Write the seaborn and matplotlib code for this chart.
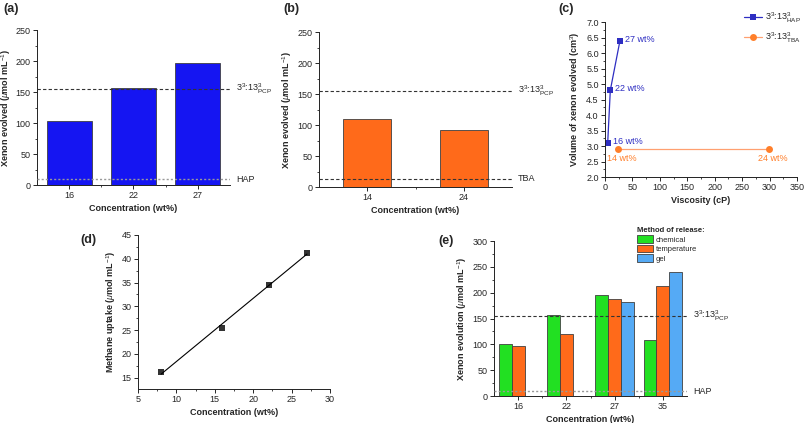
import seaborn as sns
import matplotlib.pyplot as plt
import pandas as pd
from matplotlib.ticker import MultipleLocator

sns.set_style("ticks")
plt.rcParams['font.family'] = ['Liberation Sans', 'DejaVu Sans']
plt.rcParams['mathtext.fontset'] = 'custom'
plt.rcParams['mathtext.rm'] = 'Liberation Sans'
plt.rcParams['mathtext.it'] = 'Liberation Sans:italic'
plt.rcParams['mathtext.bf'] = 'Liberation Sans:bold'

# (a) 3^3:13^3 in HAP
conc_a = ["16", "22", "27"]
xenon_a = [103, 156, 196]
# (b) 3^3:13^3 in TBA
conc_b = ["14", "24"]
xenon_b = [109, 92]
pcp_level = 155
hap_level = 9
tba_level = 13

# (c) volume vs viscosity
visc_hap = [4.9, 9.7, 27.3]
vol_hap = [3.1, 4.8, 6.4]
lab_hap = ["16 wt%", "22 wt%", "27 wt%"]
visc_tba = [23, 299]
vol_tba = [2.9, 2.9]
lab_tba = ["14 wt%", "24 wt%"]

# (d) methane uptake
conc_d = [8, 16, 22, 27]
methane_d = [16.2, 25.5, 34.4, 41.3]

# (e) release methods
conc_e = ["16", "22", "27", "35"]
methods = ["chemical", "temperature", "gel"]
chem_e = [101, 156, 195, 108]
temp_e = [97, 120, 188, 213]
gel_e = [None, None, 181, 240]

blue = '#1515F2'
orange = '#FF6A1A'
green = '#22E022'
lblue = '#55AAF5'
edge = '#404040'

tick_fs = 6.5
lab_fs = 6.5

rows = []
for i, c in enumerate(conc_e):
    for m, vals in zip(methods, [chem_e, temp_e, gel_e]):
        if vals[i] is not None:
            rows.append({"conc": c, "xenon": vals[i], "method": m})
df_e = pd.DataFrame(rows)

fig = plt.figure(figsize=(8.08, 4.23), dpi=100)
W, H = 808, 423


def box(x0, x1, y0, y1):
    return [x0 / W, 1 - y1 / H, (x1 - x0) / W, (y1 - y0) / H]


ax_a = fig.add_axes(box(37, 230, 30, 185))
ax_b = fig.add_axes(box(319, 512, 32, 187))
ax_c = fig.add_axes(box(605, 797, 22, 177))
ax_d = fig.add_axes(box(138, 330, 235, 389))
ax_e = fig.add_axes(box(494, 687, 241, 396))


def style(ax):
    sns.despine(ax=ax)
    for s in ['left', 'bottom']:
        ax.spines[s].set_linewidth(0.7)
        ax.spines[s].set_color('#222222')
    ax.tick_params(which='major', direction='out', length=3, width=0.7,
                   labelsize=tick_fs, pad=1.5)
    ax.tick_params(which='minor', direction='out', length=1.6, width=0.6)


def ref_lines(ax, low, low_text, low_style):
    ax.axhline(pcp_level, ls=(0, (3, 2)), color='#333333', lw=0.8, zorder=5)
    ax.axhline(low, ls=low_style[0], color=low_style[1], lw=low_style[2], zorder=5)
    tr = ax.get_yaxis_transform()
    ax.text(1.03, pcp_level, r'3$^3$:13$^3_{\mathrm{PCP}}$', transform=tr,
            va='center', ha='left', fontsize=tick_fs, clip_on=False)
    ax.text(1.03, low, low_text, transform=tr, va='center', ha='left',
            fontsize=tick_fs, clip_on=False)


# (a)
sns.barplot(x=conc_a, y=xenon_a, color=blue, width=0.7, saturation=1,
            edgecolor=edge, linewidth=0.6, ax=ax_a)
ref_lines(ax_a, hap_level, 'HAP', ((0, (1.5, 1.5)), '#999999', 1.0))
ax_a.set_ylim(0, 250)
ax_a.set_xlim(-0.5, 2.5)

# (b)
sns.barplot(x=conc_b, y=xenon_b, color=orange, width=0.5, saturation=1,
            edgecolor=edge, linewidth=0.6, ax=ax_b)
ref_lines(ax_b, tba_level, 'TBA', ((0, (3, 2)), '#333333', 0.8))
ax_b.set_ylim(0, 250)
ax_b.set_xlim(-0.5, 1.5)

for ax in (ax_a, ax_b):
    ax.yaxis.set_major_locator(MultipleLocator(50))
    ax.yaxis.set_minor_locator(MultipleLocator(25))
    ax.set_ylabel(r'Xenon evolved ($\mu$mol mL$^{-1}$)', fontsize=lab_fs,
                  fontweight='bold', labelpad=3)
    ax.set_xlabel('Concentration (wt%)', fontsize=lab_fs, fontweight='bold',
                  labelpad=3)
    style(ax)
ax_a.yaxis.set_label_coords(-24 / 193, 0.5)
ax_a.set_xticks([0.5, 1.5], minor=True)
ax_b.set_xticks([0.5], minor=True)

# (c)
c_blue = '#2E2EC2'
c_orange = '#FF7F2A'
sns.lineplot(x=visc_hap, y=vol_hap, color=c_blue, marker='s', markersize=4,
             markeredgewidth=0, lw=0.9, label=r'3$^3$:13$^3_{\mathrm{HAP}}$', ax=ax_c)
sns.lineplot(x=visc_tba, y=vol_tba, color='#FFA070', marker='o', markersize=5,
             markerfacecolor=c_orange, markeredgewidth=0, lw=0.9,
             label=r'3$^3$:13$^3_{\mathrm{TBA}}$', ax=ax_c)
for xv, yv, t in zip(visc_hap, vol_hap, lab_hap):
    ax_c.annotate(t, (xv, yv), xytext=(3.5, 1), textcoords='offset points',
                  color=c_blue, fontsize=tick_fs, va='center', ha='left')
for xv, yv, t in zip(visc_tba, vol_tba, lab_tba):
    ax_c.annotate(t, (xv, yv), xytext=(3, -7), textcoords='offset points',
                  color=c_orange, fontsize=tick_fs, va='center', ha='center')
ax_c.set_xlim(0, 350)
ax_c.set_ylim(2.0, 7.0)
ax_c.xaxis.set_major_locator(MultipleLocator(50))
ax_c.xaxis.set_minor_locator(MultipleLocator(25))
ax_c.yaxis.set_major_locator(MultipleLocator(0.5))
ax_c.yaxis.set_minor_locator(MultipleLocator(0.25))
ax_c.yaxis.set_major_formatter('{x:.1f}')
ax_c.set_xlabel('Viscosity (cP)', fontsize=lab_fs, fontweight='bold', labelpad=3)
ax_c.set_ylabel(r'Volume of xenon evolved (cm$^3$)', fontsize=lab_fs,
                fontweight='bold', labelpad=3)
style(ax_c)
ax_c.legend(loc='upper left', bbox_to_anchor=(738 / W, 1 - 4 / H),
            bbox_transform=fig.transFigure, frameon=False, fontsize=tick_fs,
            handlelength=2.0, handletextpad=0.3, labelspacing=0.7, borderpad=0.2)

# (d)
sns.regplot(x=conc_d, y=methane_d, ci=None, marker='s', color='black',
            scatter_kws={'s': 16, 'linewidths': 0}, line_kws={'lw': 0.8},
            truncate=True, ax=ax_d)
ax_d.set_xlim(5, 30)
ax_d.set_ylim(12.6, 45)
ax_d.xaxis.set_major_locator(MultipleLocator(5))
ax_d.xaxis.set_minor_locator(MultipleLocator(2.5))
ax_d.yaxis.set_major_locator(MultipleLocator(5))
ax_d.yaxis.set_minor_locator(MultipleLocator(2.5))
ax_d.set_xlabel('Concentration (wt%)', fontsize=lab_fs, fontweight='bold', labelpad=3)
ax_d.set_ylabel(r'Methane uptake ($\mu$mol mL$^{-1}$)', fontsize=lab_fs,
                fontweight='bold', labelpad=3)
style(ax_d)

# (e)
sns.barplot(data=df_e, x='conc', y='xenon', hue='method', order=conc_e,
            hue_order=methods, palette=[green, orange, lblue], width=0.8,
            saturation=1, edgecolor=edge, linewidth=0.6, ax=ax_e)
ref_lines(ax_e, hap_level, 'HAP', ((0, (1.5, 1.5)), '#999999', 1.0))
ax_e.set_ylim(0, 300)
ax_e.set_xlim(-0.5, 3.5)
ax_e.yaxis.set_major_locator(MultipleLocator(50))
ax_e.yaxis.set_minor_locator(MultipleLocator(25))
ax_e.set_xticks([0.5, 1.5, 2.5], minor=True)
ax_e.set_xlabel('Concentration (wt%)', fontsize=lab_fs, fontweight='bold', labelpad=3)
ax_e.set_ylabel(r'Xenon evolution ($\mu$mol mL$^{-1}$)', fontsize=lab_fs,
                fontweight='bold', labelpad=3)
style(ax_e)
handles, labels = ax_e.get_legend_handles_labels()
leg = ax_e.legend(handles, labels, title='Method of release:', loc='upper left',
                  bbox_to_anchor=(632 / W, 1 - 222 / H), bbox_transform=fig.transFigure,
                  frameon=False, fontsize=5.5,
                  title_fontproperties={'weight': 'bold', 'size': 5.5},
                  handlelength=2.0, handleheight=1.1, labelspacing=0.15,
                  handletextpad=0.4, borderpad=0.2)
leg._legend_box.align = 'left'

# panel labels
for t, x, y in [('(a)', 3, 9), ('(b)', 283, 9), ('(c)', 558, 9),
                ('(d)', 80, 240), ('(e)', 438, 241)]:
    fig.text(x / W, 1 - y / H, t, fontsize=9, fontweight='bold', va='center')

fig.savefig('out.png', dpi=100)
